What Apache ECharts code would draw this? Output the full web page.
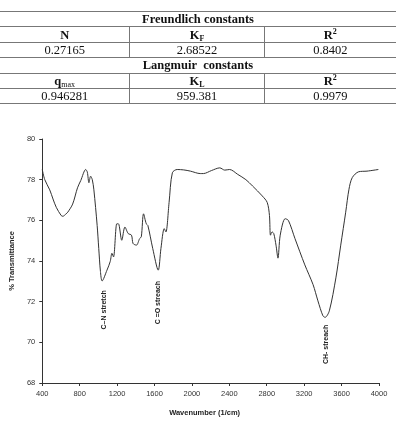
<!DOCTYPE html>
<html>
<head>
<meta charset="utf-8">
<script src="https://cdn.jsdelivr.net/npm/echarts@6/dist/echarts.min.js"></script>
<style>
  html, body { margin: 0; padding: 0; background: #fff; }
  #wrap { position: relative; width: 396px; height: 422px; overflow: hidden; }
  #chart { position: absolute; left: 0; top: 0; width: 396px; height: 422px; }
  table.const {
    position: absolute; left: 0; top: 11px; width: 396px;
    border-collapse: collapse; font-family: "Liberation Serif", serif; font-size: 12.5px;
    color: #111; z-index: 2;
  }
  table.const td {
    height: 14.4px; line-height: 14px; padding: 0; text-align: center;
    border-top: 1px solid #777; border-bottom: 1px solid #777;
  }
  table.const td + td { border-left: 1px solid #777; }
  table.const .head { font-weight: bold; }
  table.const sub { font-size: 8px; vertical-align: -2px; line-height: 0; }
  table.const sup { font-size: 8px; vertical-align: 5px; line-height: 0; }
  table.const .n { font-weight: normal; }
</style>
</head>
<body>
<div id="wrap">
  <div id="chart"></div>
  <table class="const" id="tbl"></table>
</div>
<script>
// table values
const freundlichHeads = ['N', 'K<sub>F</sub>', 'R<sup>2</sup>'];
const freundlichVals = ['0.27165', '2.68522', '0.8402'];
const langmuirHeads = ['q<sub class="n">max</sub>', 'K<sub>L</sub>', 'R<sup>2</sup>'];
const langmuirVals = ['0.946281', '959.381', '0.9979'];
const colWidths = [130, 134, 132];

// FTIR spectrum
const waveNumbers = [400, 427, 480, 515, 550, 602, 620, 655, 673, 725, 777, 812, 865, 882, 899, 917, 935, 952, 987, 1004,
  1022, 1040, 1092, 1127, 1145, 1162, 1197, 1214, 1250, 1284, 1319, 1354, 1371, 1407, 1441, 1459, 1483, 1512, 1529, 1581,
  1640, 1669, 1704, 1722, 1756, 1791, 1843, 1913, 1984, 2089, 2123, 2210, 2298, 2351, 2403, 2490, 2577, 2648, 2752, 2805,
  2829, 2840, 2857, 2875, 2899, 2920, 2944, 2997, 3032, 3102, 3207, 3295, 3347, 3400, 3424, 3469, 3539, 3591, 3644, 3679,
  3714, 3783, 3872, 3993];
const transmittance = [78.5, 78.0, 77.5, 77.05, 76.64, 76.24, 76.2, 76.32, 76.4, 76.8, 77.6, 77.96, 78.5, 78.37, 77.85, 78.17, 78.0, 77.5, 75.75, 74.62,
  73.49, 73.02, 73.55, 73.98, 74.38, 74.2, 75.83, 75.83, 75.02, 75.67, 75.35, 75.27, 74.86, 74.78, 75.1, 75.19, 76.32, 75.83, 75.75, 74.62,
  73.55, 74.62, 75.59, 75.43, 76.88, 78.34, 78.5, 78.48, 78.42, 78.3, 78.3, 78.45, 78.58, 78.47, 78.5, 78.26, 78.0, 77.69, 77.2, 76.88,
  76.24, 75.27, 75.43, 75.35, 74.78, 74.14, 75.27, 76.08, 75.99, 75.1, 73.81, 72.84, 72.04, 71.31, 71.23, 71.55, 73.17, 74.78, 76.4, 77.53,
  78.1, 78.39, 78.42, 78.5];

// band labels (text centre in data coords)
const bandNames = ['C–N stretch', 'C =O streach', 'CH- streach'];
const bandX = [1064, 1641, 3434];
const bandY = [71.6, 71.95, 69.9];

// build table
const tbl = document.getElementById('tbl');
function spanRow(text) {
  return `<tr><td class="head" colspan="3">${text}</td></tr>`;
}
function cellRow(cells, cls) {
  return '<tr>' + cells.map((c, i) => `<td class="${cls}" style="width:${colWidths[i]}px">${c}</td>`).join('') + '</tr>';
}
tbl.innerHTML = spanRow('Freundlich constants') + cellRow(freundlichHeads, 'head') + cellRow(freundlichVals, '') +
  spanRow('Langmuir&nbsp; constants') + cellRow(langmuirHeads, 'head') + cellRow(langmuirVals, '');

const chart = echarts.init(document.getElementById('chart'), null, { renderer: 'canvas' });

const axisFont = { color: '#333', fontSize: 7.5, fontFamily: 'Liberation Sans, Arial, sans-serif' };

chart.setOption({
  animation: false,
  backgroundColor: '#fff',
  grid: { left: 35.7, right: 17, top: 139, bottom: 35.3 },
  xAxis: {
    type: 'value',
    min: 400,
    max: 4000,
    interval: 400,
    name: 'Wavenumber (1/cm)',
    nameLocation: 'middle',
    nameGap: 26,
    nameTextStyle: { color: '#222', fontSize: 7.5, fontWeight: 'bold', fontFamily: 'Liberation Sans, Arial, sans-serif', padding: [0, 12, 0, 0] },
    axisLine: { lineStyle: { color: '#333', width: 1 } },
    axisTick: { inside: false, length: 3, lineStyle: { color: '#333' } },
    axisLabel: Object.assign({ margin: 7, formatter: (v) => String(v) }, axisFont),
    splitLine: { show: false },
  },
  yAxis: {
    type: 'value',
    min: 68,
    max: 80,
    interval: 2,
    name: '% Transmittance',
    nameLocation: 'middle',
    nameGap: 24,
    nameTextStyle: { color: '#222', fontSize: 7.5, fontWeight: 'bold', fontFamily: 'Liberation Sans, Arial, sans-serif' },
    axisLine: { show: true, lineStyle: { color: '#333', width: 1 } },
    axisTick: { show: true, length: 3, lineStyle: { color: '#333' } },
    axisLabel: Object.assign({ margin: 7 }, axisFont),
    splitLine: { show: false },
  },
  series: [
    {
      type: 'line',
      data: waveNumbers.map((w, i) => [w, transmittance[i]]),
      smooth: 0.3,
      symbol: 'none',
      lineStyle: { color: '#333', width: 1 },
      markPoint: {
        symbol: 'circle',
        symbolSize: 0,
        label: {
          show: true,
          position: 'inside',
          rotate: 90,
          color: '#222',
          fontSize: 7,
          fontWeight: 'bold',
          fontFamily: 'Liberation Sans, Arial, sans-serif',
          formatter: (p) => p.name,
        },
        data: bandNames.map((n, i) => ({ name: n, coord: [bandX[i], bandY[i]] })),
      },
    },
  ],
});
</script>
</body>
</html>
